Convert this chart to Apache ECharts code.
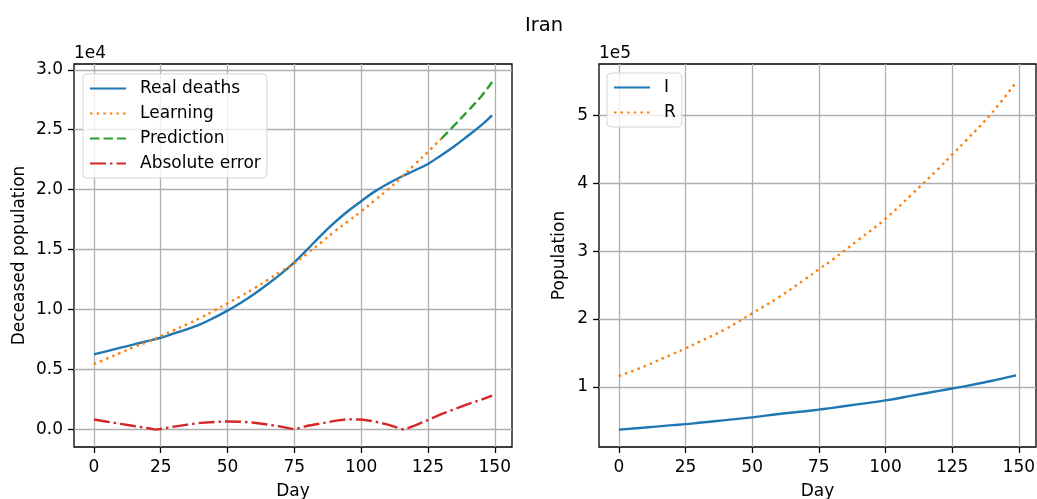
<!DOCTYPE html>
<html><head><meta charset="utf-8">
<script src="https://cdn.jsdelivr.net/npm/echarts@6/dist/echarts.min.js"></script>
<style>html,body{margin:0;padding:0;background:#fff}#c{width:1037px;height:499px}</style>
</head><body><div id="c"></div>
<script>
// ---- data ----
const realDays = [0,5,10,15,20,25,30,35,40,45,50,55,60,65,70,75,80,85,90,95,100,105,110,115,120,125,130,135,140,145,149];
const realDeaths = [6270,6550,6830,7100,7380,7660,8020,8380,8800,9330,9920,10580,11310,12120,12980,13950,15050,16200,17250,18200,19040,19840,20500,21080,21600,22150,22880,23650,24500,25380,26200];
const learningDays = [0,5,10,15,20,25,30,35,40,45,50,55,60,65,70,75,80,85,90,95,100,105,110,115,120,125,130];
const learning = [5460,5930,6410,6880,7300,7780,8300,8800,9330,9920,10530,11140,11780,12480,13180,13870,14710,15600,16520,17350,18190,19100,20010,21010,22100,23150,24250];
const predictionDays = [130,135,140,145,149];
const prediction = [24250,25400,26580,27800,28980];
const errorDays = [0,5,10,15,20,23,25,30,35,40,45,50,55,60,65,70,75,80,85,90,95,100,105,110,116,120,125,130,135,140,145,149];
const absError = [840,660,480,300,130,0,50,250,420,560,640,680,660,570,420,250,20,320,510,730,860,840,680,420,0,330,800,1290,1710,2120,2500,2830];
const sirDays = [0,10,20,25,30,40,50,60,70,75,80,90,100,110,120,125,130,140,149];
const infected = [37000,40000,43500,45000,47000,51000,55000,60000,64000,66500,69000,74500,80000,87000,94000,97500,101000,109000,117000];
const recovered = [115700,131000,148000,156600,166000,185000,208300,232000,259000,273200,287000,317000,347600,384000,422000,442000,462000,504000,548700];
const xTicks = [0,25,50,75,100,125,150];
const leftYTicks = [0,5000,10000,15000,20000,25000,30000];
const rightYTicks = [100000,200000,300000,400000,500000];

const pair = (xs, ys) => xs.map((x, i) => [x, ys[i]]);
const FONT = 'DejaVu Sans';
const FS = 17;
const C = ['#1f77b4', '#ff7f0e', '#2ca02c', '#d62728'];

function xAxis(gi) {
  return {
    type: 'value', gridIndex: gi, min: -7.45, max: 156.45, position: 'bottom',
    name: 'Day', nameLocation: 'middle', nameGap: 36,
    nameTextStyle: {fontFamily: FONT, fontSize: FS, color: '#000'},
    axisLine: {show: false, onZero: false},
    axisTick: {show: true, inside: false, length: 6, lineStyle: {color: '#000', width: 1.3}, customValues: xTicks},
    axisLabel: {fontFamily: FONT, fontSize: FS, color: '#000', margin: 12, customValues: xTicks, formatter: v => String(v)},
    splitLine: {show: true, lineStyle: {color: '#b0b0b0', width: 1.3}}
  };
}
function yAxis(gi, min, max, ticks, name, gap, fmt) {
  return {
    type: 'value', gridIndex: gi, min: min, max: max, position: 'left',
    name: name, nameLocation: 'middle', nameGap: gap, nameRotate: 90,
    nameTextStyle: {fontFamily: FONT, fontSize: FS, color: '#000'},
    axisLine: {show: false, onZero: false},
    axisTick: {show: true, inside: false, length: 6, lineStyle: {color: '#000', width: 1.3}, customValues: ticks},
    axisLabel: {fontFamily: FONT, fontSize: FS, color: '#000', margin: 11, customValues: ticks, formatter: fmt},
    splitLine: {show: true, lineStyle: {color: '#b0b0b0', width: 1.3}}
  };
}
function line(name, data, xi, color, type, smooth) {
  return {
    type: 'line', name: name, data: data, xAxisIndex: xi, yAxisIndex: xi,
    symbol: 'none', showSymbol: false, smooth: smooth,
    lineStyle: {color: color, width: 2.4, type: type, cap: 'butt'},
    itemStyle: {color: color}, animation: false, z: 3
  };
}
const legendBase = {
  orient: 'vertical', itemWidth: 36, itemHeight: 14, itemGap: 8,
  padding: [6, 6, 6, 6], backgroundColor: 'rgba(255,255,255,0.8)',
  borderColor: '#d6d6d6', borderWidth: 1, borderRadius: 4,
  itemStyle: {opacity: 0, color: 'rgba(0,0,0,0)', borderWidth: 0},
  textStyle: {fontFamily: FONT, fontSize: FS, color: '#000', padding: [0, 0, 0, 9]},
  selectedMode: false
};
const gridBase = {show: true, borderColor: '#000', borderWidth: 1.3, backgroundColor: 'transparent',
  containLabel: false, outerBoundsMode: 'none', top: 64, height: 383};

const chart = echarts.init(document.getElementById('c'), null, {renderer: 'canvas'});
chart.setOption({
  animation: false,
  backgroundColor: '#fff',
  title: [
    {text: 'Iran', left: 539, top: 11, textAlign: 'center', textStyle: {fontFamily: FONT, fontSize: 19.5, fontWeight: 'normal', color: '#000'}},
    {text: '1e4', left: 74, top: 45, padding: 0, textStyle: {fontFamily: FONT, fontSize: FS, fontWeight: 'normal', color: '#000'}},
    {text: '1e5', left: 599, top: 45, padding: 0, textStyle: {fontFamily: FONT, fontSize: FS, fontWeight: 'normal', color: '#000'}}
  ],
  grid: [
    Object.assign({}, gridBase, {left: 74, width: 438}),
    Object.assign({}, gridBase, {left: 599, width: 437})
  ],
  xAxis: [xAxis(0), xAxis(1)],
  yAxis: [
    yAxis(0, -1450, 30480, leftYTicks, 'Deceased population', 46, v => (v / 1e4).toFixed(1)),
    yAxis(1, 11350, 575650, rightYTicks, 'Population', 31, v => String(Math.round(v / 1e5)))
  ],
  legend: [
    Object.assign({}, legendBase, {left: 83, top: 74, data: ['Real deaths', 'Learning', 'Prediction', 'Absolute error']}),
    Object.assign({}, legendBase, {left: 607, top: 73, data: ['I', 'R']})
  ],
  series: [
    line('Real deaths', pair(realDays, realDeaths), 0, C[0], 'solid', 0.4),
    line('Learning', pair(learningDays, learning), 0, C[1], [2.5, 4.1], 0.4),
    line('Prediction', pair(predictionDays, prediction), 0, C[2], [9.4, 4.1], 0.4),
    line('Absolute error', pair(errorDays, absError), 0, C[3], [16, 4, 2.5, 4], false),
    line('I', pair(sirDays, infected), 1, C[0], 'solid', 0.4),
    line('R', pair(sirDays, recovered), 1, C[1], [2.5, 4.1], 0.4)
  ]
});
</script>
</body></html>
